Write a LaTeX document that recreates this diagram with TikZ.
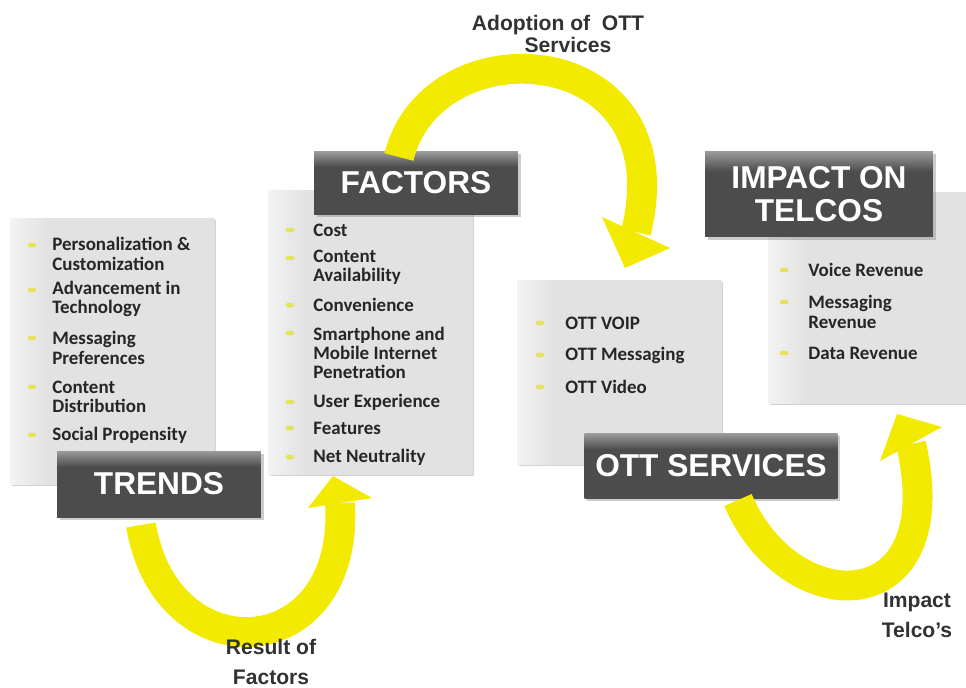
\documentclass[tikz,border=0pt]{standalone}
\usepackage{fontspec}
\setmainfont{Liberation Sans}
\newfontfamily\calib{Carlito}
\usetikzlibrary{shadows}
\definecolor{ylw}{RGB}{242,234,0}
\definecolor{bul}{RGB}{230,226,90}
\definecolor{dk}{RGB}{76,76,76}
\definecolor{dkl}{RGB}{155,155,155}
\definecolor{pnl}{RGB}{226,226,226}
\definecolor{pnll}{RGB}{243,243,243}
\definecolor{lbl}{RGB}{50,50,50}
\pgfdeclareverticalshading{dkshade}{100bp}{color(0bp)=(dk); color(63bp)=(dk); color(75bp)=(dkl); color(100bp)=(dkl)}
\pgfdeclarehorizontalshading{pshade}{100bp}{color(0bp)=(pnll); color(25bp)=(pnll); color(34bp)=(pnl); color(100bp)=(pnl)}
\tikzset{
  panel/.style={shade, shading=pshade, anchor=north west, inner sep=0pt,
    drop shadow={shadow xshift=1.2pt, shadow yshift=-1.2pt, opacity=0.35, fill=gray}},
  titlebox/.style={shade, shading=dkshade, anchor=center, text=white, inner sep=0pt, align=center,
    font=\bfseries\fontsize{18}{18.7}\selectfont,
    drop shadow={shadow xshift=1.5pt, shadow yshift=-1.5pt, opacity=0.4, fill=gray}},
  item/.style={anchor=west, inner sep=0pt, align=left, text=black!85,
    font=\calib\bfseries\fontsize{10.8}{11}\selectfont},
  lbl/.style={font=\bfseries\fontsize{12}{17}\selectfont, text=lbl, align=center},
  band/.style={draw=ylw, line width=17pt},
  head/.style={fill=ylw},
  bul/.style={fill=bul}
}
\begin{document}
\begin{tikzpicture}[x=0.02cm, y=-0.02cm]
\useasboundingbox (0,0) rectangle (966,687);

% panels
\node[panel, minimum width=4.08cm, minimum height=5.32cm] (trendsP) at (10,218) {};
\node[panel, minimum width=4.08cm, minimum height=5.68cm] (factorsP) at (268,190) {};
\node[panel, minimum width=4.08cm, minimum height=3.68cm] (ottP) at (517,280) {};
\node[panel, minimum width=4.1cm, minimum height=4.22cm] (impactP) at (768,192) {};

% title boxes
\node[titlebox, minimum width=4.08cm, minimum height=1.32cm] (trendsT) at (159,484) {TRENDS};
\node[titlebox, minimum width=4.08cm, minimum height=1.26cm] (factorsT) at (416,183) {FACTORS};
\node[titlebox, minimum width=5.06cm, minimum height=1.3cm] (ottT) at (711,466) {OTT SERVICES};
\node[titlebox, minimum width=4.56cm, minimum height=1.72cm] (impactT) at (819,194) {IMPACT ON\\TELCOS};

% trends items
\foreach \y in {245,290,338,387,435} \fill[bul] (32,\y) ellipse (4.5 and 2.5);
\node[item] (t1) at (52,254) {Personalization \&\\Customization};
\node[item] (t2) at (52,299) {Advancement in\\Technology};
\node[item] (t3) at (52,348) {Messaging\\Preferences};
\node[item] (t4) at (52,397) {Content\\Distribution};
\node[item] (t5) at (52,435) {Social Propensity};

% factors items
\foreach \y in {230,258,305,333,402,428,457} \fill[bul] (290,\y) ellipse (4.5 and 2.5);
\node[item] (f1) at (313,230) {Cost};
\node[item] (f2) at (313,267.5) {Content\\Availability};
\node[item] (f3) at (313,305) {Convenience};
\node[item] (f4) at (313,353) {Smartphone and\\Mobile Internet\\Penetration};
\node[item] (f5) at (313,402) {User Experience};
\node[item] (f6) at (313,428) {Features};
\node[item] (f7) at (313,457) {Net Neutrality};

% OTT items
\foreach \y in {323,355,387} \fill[bul] (540,\y) ellipse (4.5 and 2.5);
\node[item] (o1) at (565,323) {OTT VOIP};
\node[item] (o2) at (565,355) {OTT Messaging};
\node[item] (o3) at (565,387) {OTT Video};

% impact items
\foreach \y in {270,302,353} \fill[bul] (784,\y) ellipse (4.5 and 2.5);
\node[item] (i1) at (808,270) {Voice Revenue};
\node[item] (i2) at (808,312) {Messaging\\Revenue};
\node[item] (i3) at (808,353) {Data Revenue};

% arrow 1: adoption
\coordinate (a1s) at (399,157);
\coordinate (a1c1) at (432,22);
\coordinate (a1c2) at (684,38);
\coordinate (a1e) at (636,232);
\coordinate (a1l) at (602,217);
\coordinate (a1t) at (625,268);
\coordinate (a1r) at (670,248);
\draw[band] (a1s) .. controls (a1c1) and (a1c2) .. (a1e);
\fill[head] (a1l) -- (a1t) -- (a1r) -- cycle;

% arrow 2: result of factors
\coordinate (a2s) at (141,525);
\coordinate (a2c1) at (166,676);
\coordinate (a2c2) at (350,666);
\coordinate (a2e) at (340,503);
\coordinate (a2l) at (308,508);
\coordinate (a2t) at (333,476);
\coordinate (a2r) at (372,498);
\draw[band] (a2s) .. controls (a2c1) and (a2c2) .. (a2e);
\fill[head] (a2l) -- (a2t) -- (a2r) -- cycle;

% arrow 3: impact telco's
\coordinate (a3s) at (738,500);
\coordinate (a3c1) at (790,622);
\coordinate (a3c2) at (952,622);
\coordinate (a3e) at (911,444);
\coordinate (a3l) at (880,461);
\coordinate (a3t) at (897,414);
\coordinate (a3r) at (942,427);
\draw[band] (a3s) .. controls (a3c1) and (a3c2) .. (a3e);
\fill[head] (a3l) -- (a3t) -- (a3r) -- cycle;

% labels
\node[lbl, font=\bfseries\fontsize{12}{12.5}\selectfont] (adoptL) at (558,34) {Adoption of\ \ OTT\\\hspace*{0.4cm}Services};
\node[lbl] (resultL) at (271,662) {Result of\\Factors};
\node[lbl] (impactL) at (917,615) {Impact\\Telco's};
\end{tikzpicture}
\end{document}
